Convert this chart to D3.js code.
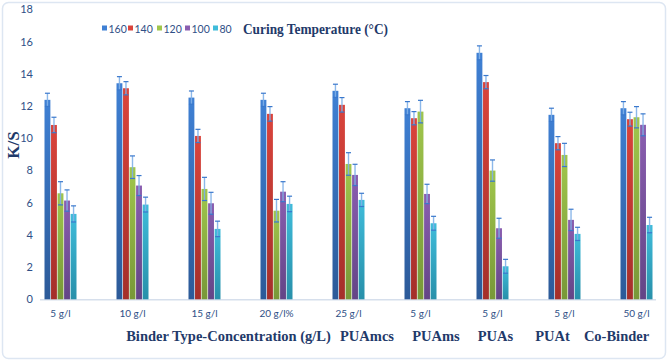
<!DOCTYPE html>
<html><head><meta charset="utf-8">
<script src="https://cdn.jsdelivr.net/npm/d3@7"></script>
<style>body{margin:0;background:#fff}svg{display:block}</style>
</head><body><svg id="c" width="669" height="362"></svg>
<script>
const categories = ["5 g/l","10 g/l","15 g/l","20 g/l%","25 g/l","5 g/l","5 g/l","5 g/l","50 g/l"];
const seriesNames = ["160","140","120","100","80"];
const v160 = [12.38,13.41,12.52,12.38,12.94,11.86,15.30,11.45,11.86];
const v140 = [10.82,13.10,10.14,11.51,12.07,11.24,13.48,9.69,11.18];
const v120 = [6.58,8.20,6.85,5.50,8.40,11.65,7.99,8.96,11.30];
const v100 = [6.13,7.06,5.96,6.68,7.72,6.54,4.41,4.93,10.83];
const v80  = [5.30,5.88,4.37,5.92,6.17,4.72,2.05,4.06,4.61];
const e160 = [0.41,0.41,0.41,0.41,0.41,0.41,0.43,0.41,0.41];
const e140 = [0.48,0.41,0.41,0.45,0.45,0.41,0.41,0.41,0.43];
const e120 = [0.72,0.70,0.72,0.70,0.70,0.70,0.66,0.72,0.66];
const e100 = [0.66,0.62,0.68,0.62,0.66,0.60,0.62,0.66,0.68];
const e80  = [0.50,0.46,0.48,0.48,0.41,0.43,0.43,0.41,0.48];
const yTicks = [0,2,4,6,8,10,12,14,16,18];
const groupTitles = ["Binder Type-Concentration (g/L)","PUAmcs","PUAms","PUAs","PUAt","Co-Binder"];
const legendTitle = "Curing Temperature (\u00B0C)";

const values = [v160,v140,v120,v100,v80];
const errors = [e160,e140,e120,e100,e80];
const colTop = ["#3f80d4","#da443c","#a0c64c","#8a5eb0","#3fbcda"];
const colBot = ["#2c5a98","#a42f2a","#789838","#634586","#2890aa"];
const navy = "#1f3a6a";
const tickCol = "#2f4f86";

const svg = d3.select("#c");
const defs = svg.append("defs");
seriesNames.forEach((s,i)=>{
  const g = defs.append("linearGradient").attr("id","g"+i).attr("x1",0).attr("y1",0).attr("x2",0).attr("y2",1);
  g.append("stop").attr("offset","0%").attr("stop-color",colTop[i]);
  g.append("stop").attr("offset","100%").attr("stop-color",colBot[i]);
});

// border
svg.append("rect").attr("x",2.5).attr("y",2.5).attr("width",663).attr("height",356).attr("rx",6)
  .attr("fill","none").attr("stroke","#dde6f2").attr("stroke-width",1.5);

const y = d3.scaleLinear().domain([0,18]).range([299.3,9.3]);
const x0 = d3.scaleBand().domain(d3.range(categories.length)).range([24.5,672.5]).padding(0);
const x1 = d3.scaleBand().domain(seriesNames).range([-16,16]).paddingInner(0.1);

// y axis labels
const yAxis = d3.axisLeft(y).tickValues(yTicks).tickSize(0).tickPadding(0);
const ya = svg.append("g").attr("transform","translate(33,0)").call(yAxis);
ya.select(".domain").remove();
ya.selectAll("text").attr("fill",tickCol).attr("font-family","'Liberation Sans Narrow','Lato',sans-serif").attr("font-size",11);

// baseline
svg.append("line").attr("x1",40).attr("x2",656).attr("y1",y(0)+0.5).attr("y2",y(0)+0.5)
  .attr("stroke","#d6dfec").attr("stroke-width",1.5);

// bars
const groups = svg.append("g").selectAll("g").data(categories).join("g")
  .attr("transform",(d,i)=>`translate(${x0(i)+x0.bandwidth()/2},0)`);
seriesNames.forEach((s,si)=>{
  groups.append("rect")
    .attr("x",(d,i)=>x1(s))
    .attr("width",x1.bandwidth())
    .attr("y",(d,i)=>y(values[si][i]))
    .attr("height",(d,i)=>y(0)-y(values[si][i]))
    .attr("fill",`url(#g${si})`);
});
// error bars
seriesNames.forEach((s,si)=>{
  groups.each(function(d,i){
    const g = d3.select(this);
    const cx = x1(s)+x1.bandwidth()/2;
    const v = values[si][i], e = errors[si][i];
    g.append("line").attr("x1",cx).attr("x2",cx).attr("y1",y(v+e)).attr("y2",y(v-e))
      .attr("stroke","#7fb0e8").attr("stroke-opacity",0.9).attr("stroke-width",1.4);
    [v+e,v-e].forEach(t=>{
      g.append("line").attr("x1",cx-2.5).attr("x2",cx+2.5).attr("y1",y(t)).attr("y2",y(t))
        .attr("stroke","#3a78cc").attr("stroke-width",1.2);
    });
  });
});

// x tick labels
const xa = d3.axisBottom(x0).tickFormat(i=>categories[i]).tickSize(0).tickPadding(0);
const xg = svg.append("g").attr("transform",`translate(0,${y(0)+11})`).call(xa);
xg.select(".domain").remove();
xg.selectAll("text").attr("fill",tickCol).attr("font-family","'Liberation Sans Narrow','Lato',sans-serif").attr("font-size",10);

// group titles
const titleX = [228.5,367,436,495.5,552.5,616.5];
svg.append("g").selectAll("text").data(groupTitles).join("text")
  .attr("x",(d,i)=>titleX[i]).attr("y",341).attr("text-anchor","middle")
  .attr("font-family","'Liberation Serif','Times New Roman',serif").attr("font-weight","bold")
  .attr("font-size",14.5).attr("fill",navy).text(d=>d);

// y title
svg.append("text").attr("transform","translate(19,145) rotate(-90)").attr("text-anchor","middle")
  .attr("font-family","'Liberation Serif',serif").attr("font-weight","bold").attr("font-size",17)
  .attr("fill",navy).text("K/S");

// legend
const legX = [102,128,157,185,213];
const leg = svg.append("g").selectAll("g").data(seriesNames).join("g")
  .attr("transform",(d,i)=>`translate(${legX[i]},29)`);
leg.append("rect").attr("x",0).attr("y",-3.5).attr("width",5).attr("height",5).attr("fill",(d,i)=>colTop[i]);
leg.append("text").attr("x",6.5).attr("y",3.5).attr("font-family","'Liberation Sans Narrow','Lato',sans-serif")
  .attr("font-size",10.5).attr("fill",tickCol).text(d=>d);
svg.append("text").attr("x",243).attr("y",34).attr("font-family","'Liberation Serif',serif")
  .attr("font-weight","bold").attr("font-size",15.5).attr("fill",navy)
  .attr("textLength",145).attr("lengthAdjust","spacingAndGlyphs").text(legendTitle);
</script></body></html>
